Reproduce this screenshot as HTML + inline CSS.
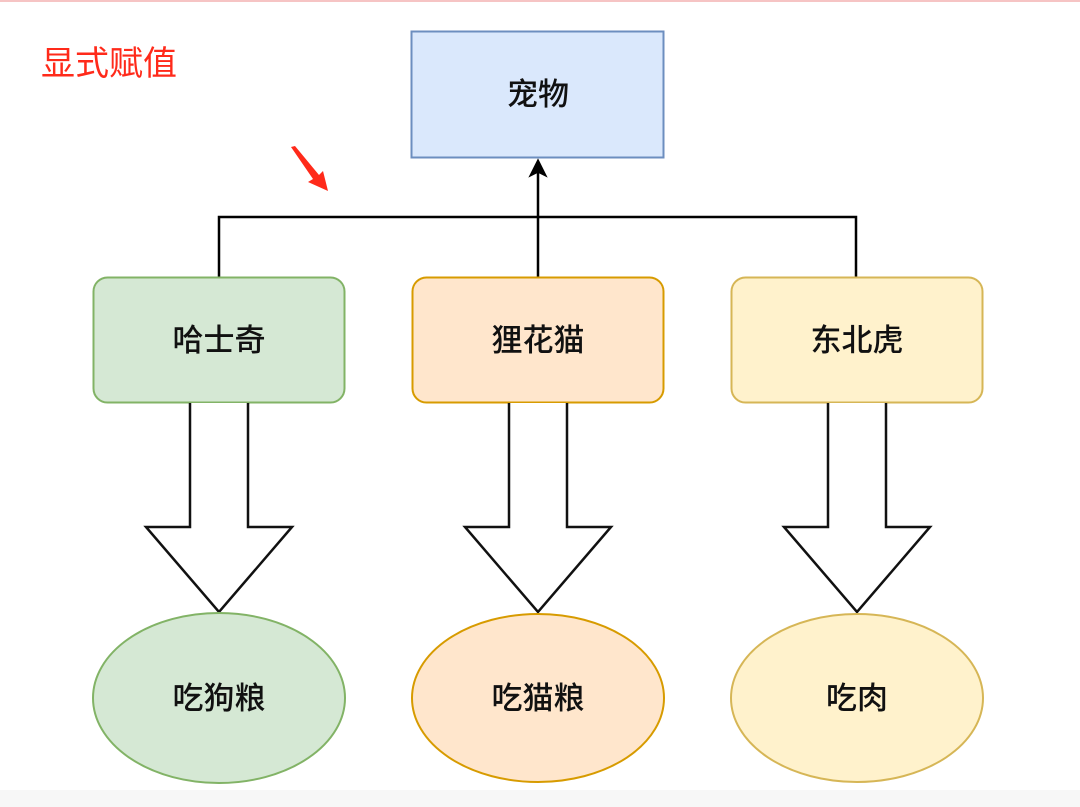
<!DOCTYPE html>
<html><head><meta charset="utf-8"><style>
html,body{margin:0;padding:0;background:#fff;}
body{width:1080px;height:807px;overflow:hidden;position:relative;}
</style></head><body>
<svg width="1080" height="807" viewBox="0 0 1080 807" xmlns="http://www.w3.org/2000/svg" style="position:absolute;left:0;top:0">
<rect x="0" y="0" width="1080" height="2" fill="#f6c4c4"/>
<rect x="0" y="790" width="1080" height="17" fill="#f7f7f7"/>
<g font-family="'Liberation Sans','Noto Sans CJK SC',sans-serif" text-anchor="middle">
<text x="109" y="75" font-size="34" fill="#ff2a1a">显式赋值</text>
<path d="M291,147 L295,146 L319,175 L323,171 L328,191 L308,182 L313,179 Z" fill="#ff2a1a"/>
<rect x="411.5" y="31.5" width="252" height="126" fill="#dae8fc" stroke="#6c8ebf" stroke-width="2"/>
<text x="538" y="105" font-size="31" font-weight="500" fill="#111">宠物</text>
<path d="M219,277 V217 H856 V277 M538,277 V172" fill="none" stroke="#000" stroke-width="2.5"/>
<path d="M538,160 L546,176 L538,172 L530,176 Z" fill="#000" stroke="#000" stroke-width="1.5"/>
<rect x="93.5" y="277.5" width="251" height="125" rx="14" fill="#d5e8d4" stroke="#82b366" stroke-width="2"/>
<rect x="412.5" y="277.5" width="251" height="125" rx="14" fill="#ffe6cc" stroke="#d79b00" stroke-width="2"/>
<rect x="731.5" y="277.5" width="251" height="125" rx="14" fill="#fff2cc" stroke="#d6b656" stroke-width="2"/>
<g font-size="31" font-weight="500" fill="#111">
<text x="219" y="351">哈士奇</text>
<text x="538" y="351">狸花猫</text>
<text x="857" y="351">东北虎</text>
</g>
<g fill="#fff" stroke="#111" stroke-width="2.5" stroke-linejoin="miter">
<path d="M190,403 V527 H146 L219,612 L292,527 H248 V403"/>
<path d="M509,403 V527 H465 L538,612 L611,527 H567 V403"/>
<path d="M828,403 V527 H784 L857,612 L930,527 H886 V403"/>
</g>
<ellipse cx="219" cy="698" rx="126" ry="85" fill="#d5e8d4" stroke="#82b366" stroke-width="2"/>
<ellipse cx="538" cy="698" rx="126" ry="84" fill="#ffe6cc" stroke="#d79b00" stroke-width="2"/>
<ellipse cx="857" cy="698" rx="126" ry="84" fill="#fff2cc" stroke="#d6b656" stroke-width="2"/>
<g font-size="31" font-weight="500" fill="#111">
<text x="219" y="709">吃狗粮</text>
<text x="538" y="709">吃猫粮</text>
<text x="857" y="709">吃肉</text>
</g>
</g>
</svg>
</body></html>
